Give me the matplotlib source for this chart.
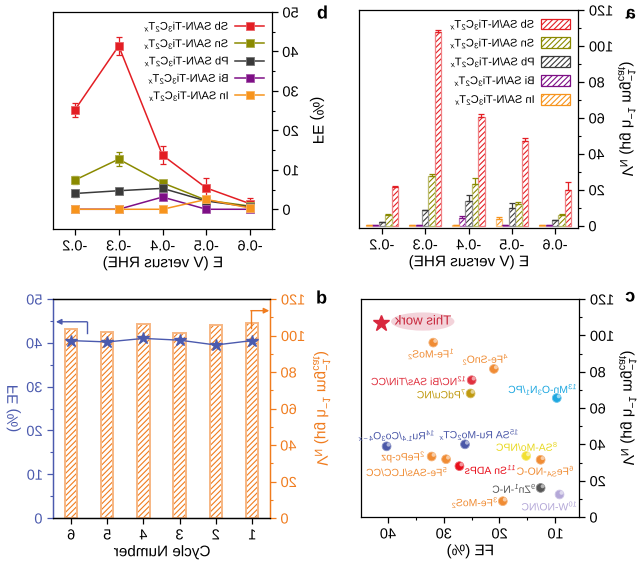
import matplotlib
matplotlib.use('Agg')
import matplotlib.pyplot as plt
import numpy as np
from matplotlib.patheffects import AbstractPathEffect
from matplotlib.transforms import Affine2D
from matplotlib.patches import Ellipse, Patch
from matplotlib.ticker import MultipleLocator
from matplotlib.colors import to_rgb
import matplotlib.text as mtext

plt.rcParams['font.family'] = ['Liberation Sans', 'DejaVu Sans']
plt.rcParams['mathtext.fontset'] = 'custom'
plt.rcParams['mathtext.rm'] = 'Liberation Sans'
plt.rcParams['mathtext.it'] = 'Liberation Sans:italic'
plt.rcParams['mathtext.bf'] = 'Liberation Sans:bold'
plt.rcParams['axes.unicode_minus'] = False
plt.rcParams['hatch.linewidth'] = 0.8
plt.rcParams['axes.linewidth'] = 0.9

# ---------------- data ----------------
potentials = [-0.2, -0.3, -0.4, -0.5, -0.6]
potential_labels = ['-0.2', '-0.3', '-0.4', '-0.5', '-0.6']
catalysts = ['Sb', 'Sn', 'Pb', 'Bi', 'In']
cat_colors = ['#E31E24', '#8A8A00', '#3A3A3A', '#7E0F86', '#F7941D']

fe_sb = [25.2, 41.4, 13.7, 5.4, 1.4]
fe_sn = [7.4, 12.7, 6.7, 2.3, 0.8]
fe_pb = [4.0, 4.7, 5.3, 2.1, 0.6]
fe_bi = [0.0, 0.0, 3.1, 0.0, 0.0]
fe_in = [0.0, 0.0, 0.0, 2.5, 0.3]
fe_sb_err = [1.8, 2.2, 2.3, 2.5, 1.5]
fe_sn_err = [1.0, 1.8, 0.4, 0.4, 0.3]
fe_pb_err = [0.8, 0.5, 0.5, 0.3, 0.2]
fe_bi_err = [0.0, 0.0, 0.4, 0.0, 0.0]
fe_in_err = [0.0, 0.0, 0.0, 0.3, 0.1]

yield_sb = [21.5, 108.0, 60.7, 47.0, 20.0]
yield_sn = [6.1, 27.6, 23.0, 12.2, 5.7]
yield_pb = [2.0, 8.5, 14.0, 10.0, 3.0]
yield_bi = [0.5, 0.5, 4.4, 0.5, 0.3]
yield_in = [0.3, 0.5, 0.5, 3.5, 0.3]
yield_sb_err = [0.3, 1.0, 1.5, 2.0, 4.5]
yield_sn_err = [0.3, 1.2, 3.7, 1.0, 0.8]
yield_pb_err = [0.2, 0.4, 3.0, 2.5, 0.3]
yield_bi_err = [0.0, 0.0, 0.8, 0.0, 0.0]
yield_in_err = [0.0, 0.0, 0.0, 1.5, 0.0]

cycles = [6, 5, 4, 3, 2, 1]
cycle_yield = [103.6, 102.1, 106.1, 101.2, 105.6, 106.7]
cycle_fe = [40.5, 40.2, 41.0, 40.6, 39.5, 40.5]

this_work_fe = 41.3
this_work_yield = 106.7
ref_labels = ['$^{1}$Fe-MoS$_2$', '$^{4}$Fe-SnO$_2$', '$^{12}$NC/Bi SAs/TiN/CC',
              '$^{7}$PdCu/NC', '$^{13}$Mn-O$_3$N$_1$/PC', '$^{15}$SA Ru-Mo$_2$CT$_x$',
              '$^{14}$Ru$_{1.4}$/Co$_3$O$_{4-x}$', '$^{2}$FePc-pz', '$^{5}$Fe-SAs/LCC/CC',
              '$^{11}$Sn ADPs', '$^{8}$SA-Mo/NPC', '$^{6}$Fe$_{SA}$-NO-C',
              '$^{9}$Zn$^{1}$-N-C', '$^{3}$Fe-MoS$_2$', '$^{10}$W-NO/NC']
ref_fe = [31.9, 21.0, 25.0, 25.2, 9.7, 26.2, 40.3, 32.2, 29.6, 27.2, 15.2, 12.6, 12.6, 19.4, 9.2]
ref_yield = [96.0, 81.5, 75.3, 68.0, 65.5, 40.0, 38.9, 33.3, 31.8, 28.0, 33.6, 31.5, 16.0, 8.7, 12.4]
ref_colors = ['#F08C34', '#F08C34', '#E0303E', '#C09A10', '#1FA8E0', '#4B58A8',
              '#4B58A8', '#F08C34', '#F08C34', '#E8101C', '#F2E030', '#F08C34',
              '#555555', '#F08C34', '#B4A8D8']

# ---------------- mirrored text effect ----------------
class Mirror(AbstractPathEffect):
    def draw_path(self, renderer, gc, tpath, affine, rgbFace=None):
        ext = tpath.get_extents(affine)
        cx = 0.5 * (ext.x0 + ext.x1)
        m = affine + Affine2D().translate(-cx, 0).scale(-1, 1).translate(cx, 0)
        renderer.draw_path(gc, tpath, m, rgbFace)


def lighten(c, f):
    r, g, b = to_rgb(c)
    return (r + (1 - r) * f, g + (1 - g) * f, b + (1 - b) * f)


TICK = 10.5
LAB = 11
fig = plt.figure(figsize=(6.4, 5.64), dpi=100)
W, H = 640, 564


def axrect(l, t, r, b):
    return [l / W, 1 - b / H, (r - l) / W, (b - t) / H]


def style(ax):
    ax.tick_params(which='major', direction='out', length=4, width=0.9, labelsize=TICK)
    ax.tick_params(which='minor', direction='out', length=2, width=0.8)

# ---------------- top-left: FE vs potential ----------------
ax1 = fig.add_axes(axrect(53, 12, 272, 229))
fe_sets = [fe_sb, fe_sn, fe_pb, fe_bi, fe_in]
fe_errs = [fe_sb_err, fe_sn_err, fe_pb_err, fe_bi_err, fe_in_err]
handles = []
for name, vals, errs, col in zip(catalysts, fe_sets, fe_errs, cat_colors):
    ax1.errorbar(potentials, vals, yerr=errs, fmt='none', ecolor=col, elinewidth=0.9,
                 capsize=2.5, capthick=0.9)
    ln, = ax1.plot(potentials, vals, color=col, lw=1.1, marker='s', ms=6,
                   mec=lighten(col, 0.3), mew=0.6,
                   label=name + ' SA/N-Ti$_3$C$_2$T$_x$')
    handles.append(ln)
ax1.set_xlim(-0.15, -0.65)
ax1.set_ylim(-5, 50)
ax1.set_xticks(potentials)
ax1.set_xticklabels(potential_labels)
ax1.yaxis.set_major_locator(MultipleLocator(10))
ax1.yaxis.set_minor_locator(MultipleLocator(5))
ax1.yaxis.tick_right()
ax1.yaxis.set_label_position('right')
style(ax1)
ax1.set_xlabel('E (V versus RHE)', fontsize=LAB, labelpad=2)
ax1.set_ylabel('FE (%)', fontsize=LAB, labelpad=8)
ax1.legend(handles=handles, loc='upper right', markerfirst=False, frameon=False,
           fontsize=8, handlelength=2.6, labelspacing=0.32, borderaxespad=0.3,
           handletextpad=0.5)

# ---------------- top-right: yield bars ----------------
ax2 = fig.add_axes(axrect(359, 10, 578, 228))
yield_sets = [yield_sb, yield_sn, yield_pb, yield_bi, yield_in]
yield_errs = [yield_sb_err, yield_sn_err, yield_pb_err, yield_bi_err, yield_in_err]
idx = np.arange(len(potentials))
bw = 0.15
offsets = {'Sb': 2, 'Sn': 1, 'Pb': 0, 'Bi': -1, 'In': -2}
patches = []
for name, vals, errs, col in zip(catalysts, yield_sets, yield_errs, cat_colors):
    xs = idx + offsets[name] * bw
    ax2.bar(xs, vals, width=bw, facecolor='white', edgecolor=col, hatch='//////', linewidth=0)
    ax2.bar(xs, vals, width=bw, fill=False, edgecolor=lighten(col, 0.45), linewidth=0.9)
    ax2.errorbar(xs, vals, yerr=[np.zeros(len(vals)), errs], fmt='none', ecolor=col,
                 elinewidth=0.9, capsize=2, capthick=0.9)
    patches.append(Patch(facecolor='white', edgecolor=col, hatch='//////', lw=0.9,
                         label=name + ' SA/N-Ti$_3$C$_2$T$_x$'))
ax2.set_xlim(-0.53, 4.53)
ax2.set_ylim(-1.3, 120)
ax2.set_xticks(idx)
ax2.set_xticklabels(potential_labels)
ax2.yaxis.set_major_locator(MultipleLocator(20))
ax2.yaxis.set_minor_locator(MultipleLocator(10))
ax2.yaxis.tick_right()
ax2.yaxis.set_label_position('right')
style(ax2)
ylab_yield = '$V_{\\rm N}$ (μg h$^{-1}$ mg$_{\\rm cat}^{-1}$)'
ax2.set_xlabel('E (V versus RHE)', fontsize=LAB, labelpad=2)
ax2.set_ylabel(ylab_yield, fontsize=LAB, labelpad=2)
ax2.legend(handles=patches, loc='upper right', markerfirst=False, frameon=False,
           fontsize=8, handlelength=2.6, handleheight=1.1, labelspacing=0.45,
           borderaxespad=0.3, handletextpad=0.5)

# ---------------- bottom-left: stability ----------------
BLUE = '#4B5AAE'
ORANGE = '#F07C1E'
axn = fig.add_axes(axrect(53, 299, 270, 518))
axn.bar(cycles, cycle_yield, width=0.34, facecolor='white', edgecolor=ORANGE,
        hatch='//////', linewidth=0)
axn.bar(cycles, cycle_yield, width=0.34, fill=False, edgecolor=lighten(ORANGE, 0.45),
        linewidth=1.4)
axf = axn.twinx()
axn.set_xlim(6.5, 0.5)
axn.set_ylim(0, 120)
axn.yaxis.tick_right()
axn.yaxis.set_label_position('right')
axn.yaxis.set_major_locator(MultipleLocator(20))
axn.yaxis.set_minor_locator(MultipleLocator(10))
axn.set_xticks(cycles)
style(axn)
axn.tick_params(axis='y', which='both', colors=ORANGE, left=False, labelleft=False,
                right=True, labelright=True)
axn.set_ylabel(ylab_yield, fontsize=LAB, color=ORANGE, labelpad=4)
axn.set_xlabel('Cycle Number', fontsize=LAB, labelpad=2)

axf.plot(cycles, cycle_fe, color=BLUE, lw=1.0, marker='*', ms=9, mec=BLUE)
axf.set_ylim(0, 50)
axf.yaxis.tick_left()
axf.yaxis.set_label_position('left')
axf.yaxis.set_major_locator(MultipleLocator(10))
axf.yaxis.set_minor_locator(MultipleLocator(5))
style(axf)
axf.tick_params(axis='y', which='both', colors=BLUE, right=False, labelright=False,
                left=True, labelleft=True)
axf.set_ylabel('FE (%)', fontsize=LAB, color=BLUE, rotation=270, labelpad=14)
axf.spines['left'].set_color(BLUE)
axf.spines['right'].set_color(ORANGE)
axn.spines['left'].set_color(BLUE)
axn.spines['right'].set_color(ORANGE)
# direction arrows
axf.plot([5.56, 5.56], [42.2, 44.8], color=BLUE, lw=1)
axf.annotate('', xy=(6.42, 44.8), xytext=(5.56, 44.8),
             arrowprops=dict(arrowstyle='-|>', color=BLUE, lw=1, mutation_scale=8,
                             shrinkA=0, shrinkB=0))
axn.plot([1.03, 1.03], [104.0, 113.6], color=ORANGE, lw=1)
axn.annotate('', xy=(0.52, 113.6), xytext=(1.03, 113.6),
             arrowprops=dict(arrowstyle='-|>', color=ORANGE, lw=1, mutation_scale=8,
                             shrinkA=0, shrinkB=0))

# ---------------- bottom-right: comparison ----------------
ax4 = fig.add_axes(axrect(361, 299, 579, 517))
ax4.add_patch(Ellipse((33.8, 107.6), 11.4, 10.0, facecolor='#F3D3DA', edgecolor='none'))
ax4.text(33.8, 107.6, 'This work', ha='center', va='center', fontsize=9.5, color='#C8283C')
ax4.plot([this_work_fe], [this_work_yield], marker='*', ms=12, color='#D8283E', ls='none')
ax4.scatter(ref_fe, ref_yield, s=40, c=ref_colors, edgecolors=[lighten(c, 0.35) for c in ref_colors],
            linewidths=0.6, zorder=3)
ax4.scatter(np.array(ref_fe) - 0.35, np.array(ref_yield) + 0.9, s=8,
            c=[lighten(c, 0.55) for c in ref_colors], edgecolors='none', zorder=4)
label_offsets = [(-2, -11, 'center'), (-8, 10, 'center'), (-5, 0, 'right'), (-4, 0, 'right'),
                 (-14, 9, 'center'), (14, 10, 'center'), (10, 11, 'center'), (-6, 0, 'right'),
                 (-39, -12, 'center'), (5, -3, 'left'), (1, 10, 'center'), (5, -11, 'center'),
                 (-4, 0, 'right'), (-4, -1, 'right'), (-10, -11, 'center')]
for lab, x, y, col, (dx, dy, ha) in zip(ref_labels, ref_fe, ref_yield, ref_colors, label_offsets):
    tc = col if col != '#F2E030' else '#E8D820'
    ax4.annotate(lab, xy=(x, y), xytext=(dx, dy), textcoords='offset pixels', ha=ha,
                 va='center', fontsize=7.5, color=tc)
ax4.set_xlim(44.9, 5.7)
ax4.set_ylim(0, 120)
ax4.xaxis.set_major_locator(MultipleLocator(10))
ax4.xaxis.set_minor_locator(MultipleLocator(5))
ax4.yaxis.set_major_locator(MultipleLocator(20))
ax4.yaxis.set_minor_locator(MultipleLocator(10))
ax4.yaxis.tick_right()
ax4.yaxis.set_label_position('right')
style(ax4)
ax4.set_xlabel('FE (%)', fontsize=LAB, labelpad=2)
ax4.set_ylabel(ylab_yield, fontsize=LAB, labelpad=2)

# ---------------- panel letters ----------------
fig.text(322 / W, 1 - 14 / H, 'b', fontsize=13, fontweight='bold', ha='center', va='center')
fig.text(630 / W, 1 - 14 / H, 'a', fontsize=13, fontweight='bold', ha='center', va='center')
fig.text(322 / W, 1 - 299 / H, 'd', fontsize=13, fontweight='bold', ha='center', va='center')
fig.text(630 / W, 1 - 297 / H, 'c', fontsize=13, fontweight='bold', ha='center', va='center')

# mirror every text glyph (the whole figure is shown mirrored)
fig.canvas.draw()
for t in fig.findobj(mtext.Text):
    t.set_path_effects([Mirror()])

fig.savefig('out.png', dpi=100)
